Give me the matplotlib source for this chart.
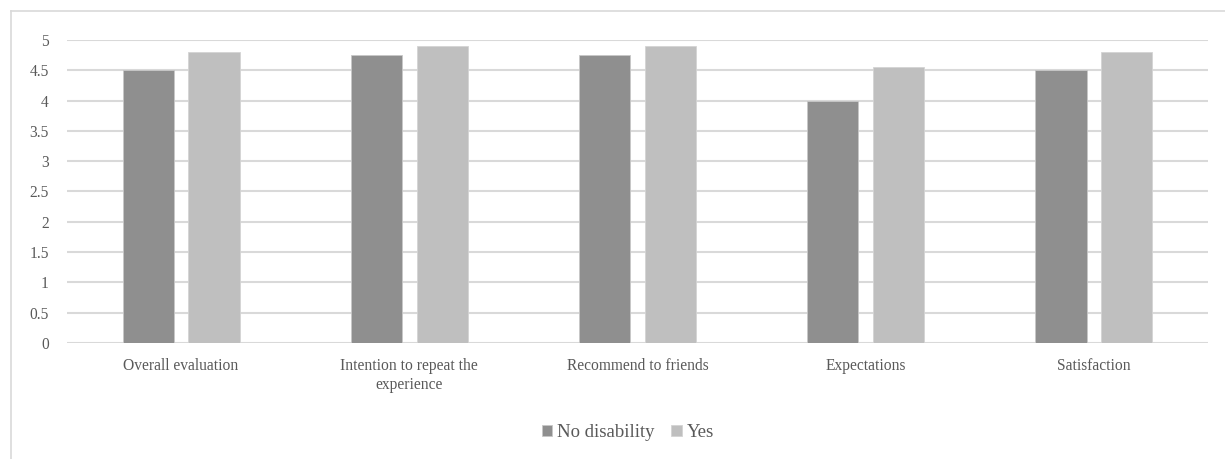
import matplotlib.pyplot as plt
import numpy as np
from matplotlib.lines import Line2D

categories = ["Overall evaluation", "Intention to repeat the\nexperience",
              "Recommend to friends", "Expectations", "Satisfaction"]
no_disability = [4.5, 4.75, 4.75, 4.0, 4.5]
yes = [4.8, 4.9, 4.9, 4.55, 4.8]
yticks = [0, 0.5, 1, 1.5, 2, 2.5, 3, 3.5, 4, 4.5, 5]

plt.rcParams['font.family'] = ['Liberation Serif', 'DejaVu Serif']
text_col = '#595959'
grid_col = '#d9d9d9'

fig = plt.figure(figsize=(12.25, 4.59), dpi=100)
ax = fig.add_axes([0.0547, 0.2527, 0.9314, 0.6602])

x = np.arange(len(categories))
w = 0.224
off = 0.144
ax.bar(x - off, no_disability, w, color='#8f8f8f', edgecolor='#c8c8c8', linewidth=0.6,
       label='No disability', zorder=3)
ax.bar(x + off, yes, w, color='#bfbfbf', edgecolor='#d4d4d4', linewidth=0.6,
       label='Yes', zorder=3)

ax.set_xlim(-0.5, len(categories) - 0.5)
ax.set_ylim(0, 5)
ax.set_yticks(yticks)
ax.set_yticklabels([f"{t:g}" for t in yticks])
ax.set_xticks(x)
ax.set_xticklabels(categories, linespacing=1.25)
ax.yaxis.grid(True, color=grid_col, linewidth=1.5, zorder=0)
ax.tick_params(axis='both', length=0, colors=text_col, labelsize=11.2)
ax.tick_params(axis='y', pad=13)
ax.tick_params(axis='x', pad=11)
for s in ax.spines.values():
    s.set_visible(False)

leg = fig.legend(loc='center', bbox_to_anchor=(0.5125, 0.058), ncol=2, frameon=False,
                 fontsize=13.5, handlelength=0.55, handleheight=0.55, handletextpad=0.25,
                 columnspacing=0.9)
for t in leg.get_texts():
    t.set_color(text_col)

# chart frame
fig.add_artist(Line2D([11 / 1225, 11 / 1225], [0, 1 - 11 / 459], transform=fig.transFigure,
                      color=grid_col, linewidth=1.2))
fig.add_artist(Line2D([11 / 1225, 1], [1 - 11 / 459, 1 - 11 / 459], transform=fig.transFigure,
                      color=grid_col, linewidth=1.2))

fig.savefig('out.png', dpi=100)
